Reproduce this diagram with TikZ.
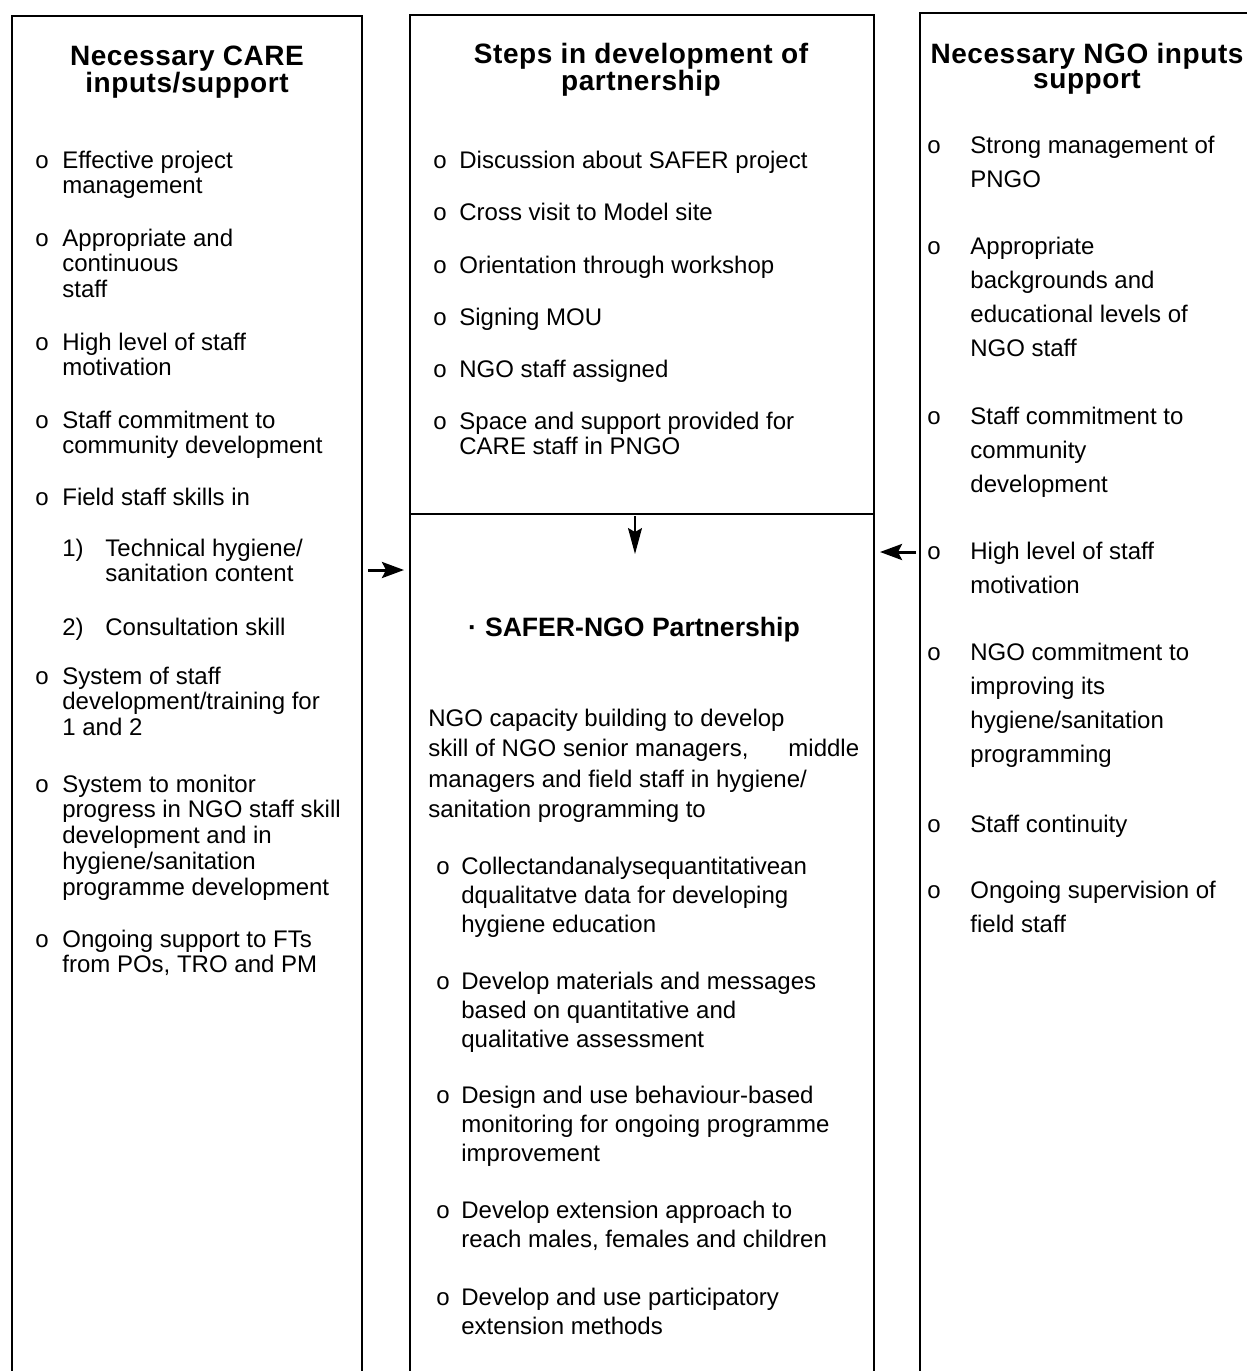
\documentclass[tikz,border=0pt]{standalone}
\usepackage{fontspec}
\setmainfont{Liberation Sans}
\newfontfamily\headfont[LetterSpace=2]{Liberation Sans}
\usetikzlibrary{positioning,arrows.meta}
% lines of an entry, hung from the baseline of the first one
\newcommand{\lstack}[1]{\begin{tabular}[t]{@{}l@{}}#1\end{tabular}}
\newcommand{\cstack}[1]{\begin{tabular}[t]{@{}c@{}}#1\end{tabular}}
\tikzset{
  frame/.style={line width=1pt},
  heading/.style={anchor=base, inner sep=0,
    font={\renewcommand{\arraystretch}{0.9}\headfont\bfseries\fontsize{14}{13}\selectfont}},
  bul/.style={anchor=base west, inner sep=0, font=\fontsize{12}{13}\selectfont},
  leftentry/.style={anchor=base west, inner sep=0, font=\fontsize{12}{12.9}\selectfont},
  midentry/.style={anchor=base west, inner sep=0, font=\fontsize{12}{14.6}\selectfont},
  rightentry/.style={anchor=base west, inner sep=0, font=\fontsize{12}{17}\selectfont},
  flow/.style={line width=1.5pt, -{Stealth[length=11pt, width=8pt, inset=2pt]}},
  thinflow/.style={line width=0.6pt, -{Stealth[length=13pt, width=7pt, inset=2pt]}}
}
\begin{document}
\begin{tikzpicture}[x=0.5pt, y=-0.5pt]
  \useasboundingbox (0,0) rectangle (1247,1371);

  % the three columns, open at the bottom
  \draw[frame] (12,1371) -- (12,16) -- (362,16) -- (362,1371);
  \draw[frame] (410,1371) -- (410,15) -- (874,15) -- (874,1371);
  \draw[frame] (410,514) -- (874,514);
  \draw[frame] (920,1371) -- (920,13) -- (1247,13);

  % headings
  \node (careH) [heading] at (187,65) {\cstack{Necessary CARE\\inputs/support}};
  \node (stepH) [heading] at (641,63) {\cstack{Steps in development of\\partnership}};
  \node (ngoH) [heading] at (1087,63) {\cstack{Necessary NGO inputs\\support}};

  % CARE inputs
  \foreach \y [count=\i] in {168,246,350,428,505,684,792,947}
    \node (cb\i) [bul] at (35,\y) {o};
  \node (c1) [leftentry] at (62,168) {\lstack{Effective project\\management}};
  \node (c2) [leftentry] at (62,246) {\lstack{Appropriate and\\continuous\\staff}};
  \node (c3) [leftentry] at (62,350) {\lstack{High level of staff\\motivation}};
  \node (c4) [leftentry] at (62,428) {\lstack{Staff commitment to\\community development}};
  \node (c5) [leftentry] at (62,505) {Field staff skills in};
  \node (n1) [bul] at (62,556) {1)};
  \node (c6) [leftentry] at (105,556) {\lstack{Technical hygiene/\\sanitation content}};
  \node (n2) [bul] at (62,635) {2)};
  \node (c7) [leftentry] at (105,635) {Consultation skill};
  \node (c8) [leftentry] at (62,684) {\lstack{System of staff\\development/training for\\1 and 2}};
  \node (c9) [leftentry] at (62,792) {\lstack{System to monitor\\progress in NGO staff skill\\development and in\\hygiene/sanitation\\programme development}};
  \node (c10) [leftentry] at (62,947) {\lstack{Ongoing support to FTs\\from POs, TRO and PM}};

  % steps
  \foreach \y [count=\i] in {168,220,273,325,377,429}
    \node (sb\i) [bul] at (433,\y) {o};
  \node (s1) [leftentry] at (459,168) {Discussion about SAFER project};
  \node (s2) [leftentry] at (459,220) {Cross visit to Model site};
  \node (s3) [leftentry] at (459,273) {Orientation through workshop};
  \node (s4) [leftentry] at (459,325) {Signing MOU};
  \node (s5) [leftentry] at (459,377) {NGO staff assigned};
  \node (s6) [leftentry] at (459,429) {\lstack{Space and support provided for\\CARE staff in PNGO}};

  % partnership
  \node (partT) [anchor=base, inner sep=0, font=\bfseries\fontsize{13.3}{14}\selectfont] at (634,636) {·\hspace{4pt}SAFER-NGO Partnership};
  \node (partP) [anchor=base west, inner sep=0, font=\fontsize{12}{15.3}\selectfont] at (428,726)
    {\lstack{NGO capacity building to develop\\skill of NGO senior managers,\hspace{20pt}middle\\managers and field staff in hygiene/\\sanitation programming to}};
  \foreach \y [count=\i] in {874,989,1103,1218,1305}
    \node (pb\i) [bul] at (436,\y) {o};
  \node (p1) [midentry] at (461,874) {\lstack{Collectandanalysequantitativean\\dqualitatve data for developing\\hygiene education}};
  \node (p2) [midentry] at (461,989) {\lstack{Develop materials and messages\\based on quantitative and\\qualitative assessment}};
  \node (p3) [midentry] at (461,1103) {\lstack{Design and use behaviour-based\\monitoring for ongoing programme\\improvement}};
  \node (p4) [midentry] at (461,1218) {\lstack{Develop extension approach to\\reach males, females and children}};
  \node (p5) [midentry] at (461,1305) {\lstack{Develop and use participatory\\extension methods}};

  % NGO inputs
  \foreach \y [count=\i] in {153,254,424,559,660,832,898}
    \node (nb\i) [bul] at (927,\y) {o};
  \node (g1) [rightentry] at (970,153) {\lstack{Strong management of\\PNGO}};
  \node (g2) [rightentry] at (970,254) {\lstack{Appropriate\\backgrounds and\\educational levels of\\NGO staff}};
  \node (g3) [rightentry] at (970,424) {\lstack{Staff commitment to\\community\\development}};
  \node (g4) [rightentry] at (970,559) {\lstack{High level of staff\\motivation}};
  \node (g5) [rightentry] at (970,660) {\lstack{NGO commitment to\\improving its\\hygiene/sanitation\\programming}};
  \node (g6) [rightentry] at (970,832) {Staff continuity};
  \node (g7) [rightentry] at (970,898) {\lstack{Ongoing supervision of\\field staff}};

  % arrows
  \coordinate (careOut) at (368,570);
  \coordinate (partInL) at (404,570);
  \coordinate (ngoOut) at (916,552);
  \coordinate (partInR) at (880,552);
  \coordinate (stepOut) at (635,516);
  \coordinate (partTop) at (635,554);
  \draw[flow] (careOut) -- (partInL);
  \draw[flow] (ngoOut) -- (partInR);
  \draw[thinflow] (stepOut) -- (partTop);
\end{tikzpicture}
\end{document}
